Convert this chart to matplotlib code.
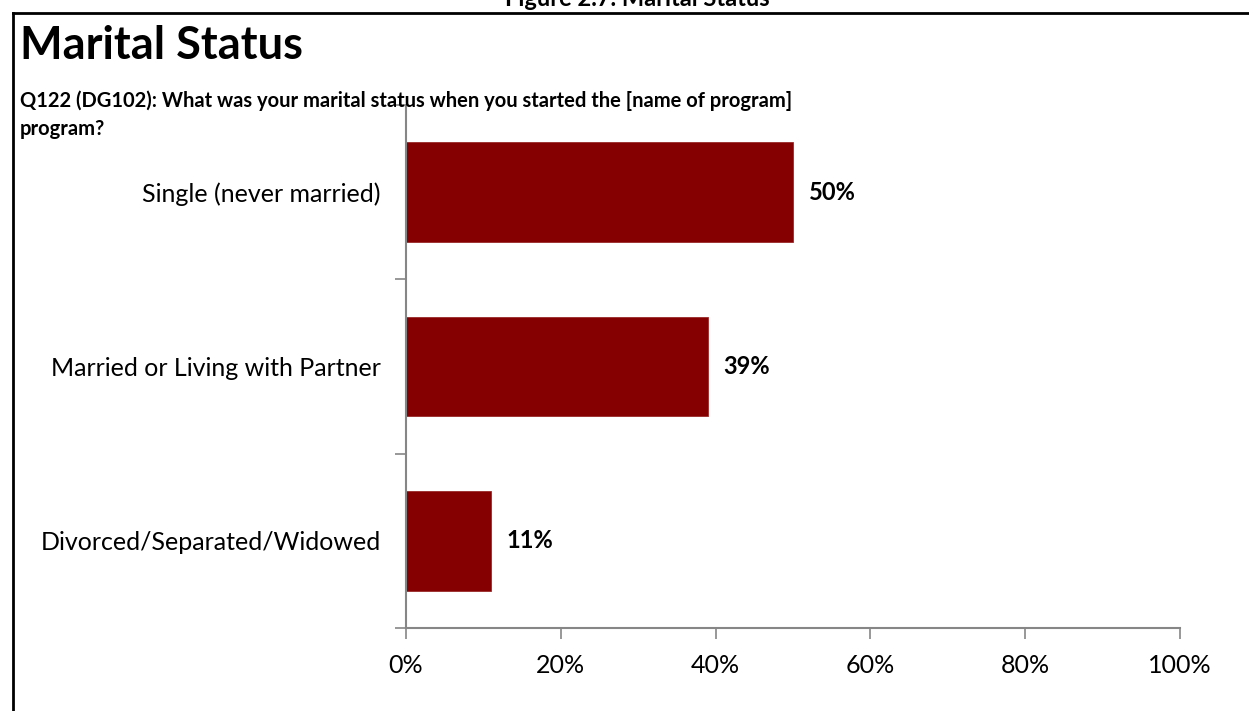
import matplotlib
matplotlib.use("Agg")
import matplotlib.pyplot as plt
from matplotlib.lines import Line2D
from matplotlib.ticker import FixedLocator, PercentFormatter

plt.rcParams['font.family'] = ['Lato', 'DejaVu Sans']

# Survey responses
categories = ["Single (never married)", "Married or Living with Partner",
              "Divorced/Separated/Widowed"]
shares = [50, 39, 11]
xticks = [0, 20, 40, 60, 80, 100]

W, H = 1249, 711
fig = plt.figure(figsize=(W / 100, H / 100), dpi=100)
fig.patch.set_facecolor("white")

def fx(px):
    return px / W

def fy(py):
    return 1 - py / H

# Frame around the chart
fig.add_artist(Line2D([fx(13), fx(1249)], [fy(13), fy(13)], color="black", lw=2,
                      transform=fig.transFigure))
fig.add_artist(Line2D([fx(13), fx(13)], [fy(13), fy(711)], color="black", lw=2,
                      transform=fig.transFigure))

# Caption above the frame
fig.text(fx(637), fy(-1), "Figure 2.7. Marital Status", ha="center", va="center",
         fontsize=17, fontweight="bold")

# Title and question text
fig.text(fx(20), fy(46), "Marital Status", ha="left", va="center",
         fontsize=32.5, fontweight="bold")
fig.text(fx(20), fy(101), "Q122 (DG102): What was your marital status when you started the [name of program]",
         ha="left", va="center", fontsize=14.5, fontweight="bold")
fig.text(fx(20), fy(129), "program?", ha="left", va="center",
         fontsize=14.5, fontweight="bold")

left, right, top, bottom = 406, 1180, 105, 628
ax = fig.add_axes([fx(left), fy(bottom), fx(right - left), (bottom - top) / H])

ypos = list(range(len(categories)))
ax.barh(ypos, shares, height=0.57, color="#850000", edgecolor="#9a2a2a", linewidth=0.6)

for y, v in zip(ypos, shares):
    ax.text(v + 2.0, y, f"{v}%", ha="left", va="center", fontsize=17, fontweight="bold")

ax.set_xlim(0, 100)
ax.set_ylim(len(categories) - 0.5, -0.5)

ax.set_xticks(xticks)
ax.xaxis.set_major_formatter(PercentFormatter(decimals=0))
ax.tick_params(axis="x", direction="out", length=8, width=1.2, color="#868686",
               labelsize=18, pad=11)

# Category boundaries as ticks, labels centred on bars
ax.yaxis.set_major_locator(FixedLocator([i - 0.5 for i in range(len(categories) + 1)]))
ax.yaxis.set_major_formatter(plt.NullFormatter())
ax.yaxis.set_minor_locator(FixedLocator(ypos))
ax.set_yticklabels(categories, minor=True)
ax.tick_params(axis="y", which="major", direction="out", length=8, width=1.2, color="#868686")
ax.tick_params(axis="y", which="minor", length=0, labelsize=18, pad=18)

for s in ("top", "right"):
    ax.spines[s].set_visible(False)
for s in ("left", "bottom"):
    ax.spines[s].set_color("#868686")
    ax.spines[s].set_linewidth(1.5)

fig.savefig("out.png", dpi=100, facecolor="white")
